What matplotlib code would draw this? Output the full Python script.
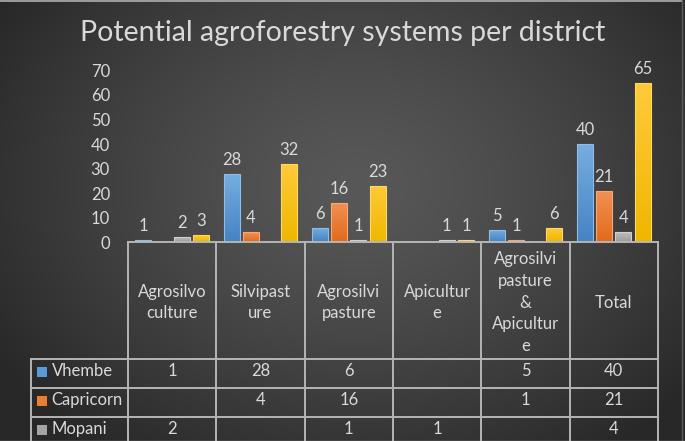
import numpy as np
import matplotlib
matplotlib.use("Agg")
import matplotlib.pyplot as plt
from matplotlib.colors import LinearSegmentedColormap
from matplotlib.patches import Rectangle

# ---------------- data ----------------
categories = ["Agrosilvo\nculture", "Silvipast\nure", "Agrosilvi\npasture",
              "Apicultur\ne", "Agrosilvi\npasture\n&\nApicultur\ne", "Total"]
series_names = ["Vhembe", "Capricorn", "Mopani", "Total"]
vhembe = [1, 28, 6, None, 5, 40]
capricorn = [None, 4, 16, None, 1, 21]
mopani = [2, None, 1, 1, None, 4]
total = [3, 32, 23, 1, 6, 65]
yticks = [0, 10, 20, 30, 40, 50, 60, 70]
title = "Potential agroforestry systems per district"

series = [vhembe, capricorn, mopani, total]
colors_top = ["#76aee0", "#f39155", "#bcbcbc", "#ffca3a"]
colors_bot = ["#4683c3", "#e26a1a", "#9b9b9b", "#efb700"]
colors_edge = ["#8fbde8", "#f6a878", "#cfcfcf", "#ffd766"]
legend_colors = ["#5b9bd5", "#ed7d31", "#a5a5a5", "#ffc000"]
txt = "#d9d9d9"
grid_c = "#b5b5b5"

plt.rcParams['font.family'] = ['Lato', 'DejaVu Sans']

W, H = 685, 441
fig = plt.figure(figsize=(W / 100, H / 100), dpi=100)

# background radial gradient
bg = fig.add_axes([0, 0, 1, 1], zorder=-10)
yy, xx = np.mgrid[0:H, 0:W]
r = np.sqrt(((xx - W * 0.52) / (W * 0.62)) ** 2 + ((yy - H * 0.42) / (H * 0.75)) ** 2)
v = 88 - 48 * np.clip(r, 0, 1) ** 1.3
img = np.dstack([v, v, v]) / 255.0
bg.imshow(img, extent=[0, W, H, 0], aspect='auto')
bg.set_xlim(0, W); bg.set_ylim(H, 0)
bg.plot([0, 682], [0.5, 0.5], color="#b0b0b0", lw=1.2)
bg.plot([682, 682], [0, H], color="#5c5c5c", lw=1.0)
bg.plot([0, W], [440.5, 440.5], color="#8a8a8a", lw=1.0)
bg.axis('off')

# main axes
x_left, x_right = 128, 658
y_base, y_top = 242.3, 70.4
ax = fig.add_axes([x_left / W, (H - y_base) / H, (x_right - x_left) / W, (y_base - y_top) / H])
ax.set_facecolor('none')
ax.set_xlim(-0.5, len(categories) - 0.5)
ax.set_ylim(0, 70)
for s in ax.spines.values():
    s.set_visible(False)
ax.set_xticks([])
ax.set_yticks(yticks)
ax.set_yticklabels([str(t) for t in yticks], fontsize=12, color=txt)
ax.tick_params(axis='y', length=0, pad=13)

step = 0.217
bw = 0.18
for j, vals in enumerate(series):
    xs = [i + (j - 1.5) * step for i, val in enumerate(vals) if val is not None]
    hs = [val for val in vals if val is not None]
    bars = ax.bar(xs, hs, width=bw, facecolor='none', edgecolor=colors_edge[j],
                  linewidth=0.8, zorder=3)
    cmap = LinearSegmentedColormap.from_list("g%d" % j, [colors_bot[j], colors_top[j]])
    grad = np.linspace(1, 0, 64).reshape(-1, 1)
    for rect, hval in zip(bars, hs):
        x0, y0 = rect.get_xy()
        im = ax.imshow(grad, extent=[x0, x0 + rect.get_width(), y0, y0 + rect.get_height()],
                       origin='upper', cmap=cmap, vmin=0, vmax=1, aspect='auto', zorder=2)
        im.set_clip_path(rect)
        ax.annotate(str(hval), (rect.get_x() + rect.get_width() / 2, hval),
                    xytext=(0, 6.5), textcoords='offset points', ha='center',
                    va='baseline', fontsize=12, color=txt, zorder=4)
ax.set_xlim(-0.5, len(categories) - 0.5)
ax.set_ylim(0, 70)

# overlay for the data table (pixel coordinates)
ov = fig.add_axes([0, 0, 1, 1], zorder=5)
ov.set_xlim(0, W); ov.set_ylim(H, 0)
ov.axis('off')
ov.patch.set_alpha(0)

def col_x(i):
    dx, _ = ax.transData.transform((i, 0))
    return dx

n = len(categories)
bounds = [col_x(i - 0.5) for i in range(n + 1)]
centers = [col_x(i) for i in range(n)]
legend_left = 30.7
row_lines = [359.3, 388.3, 417.3, 446.3]
lw = 1.4

ov.plot([bounds[0], bounds[-1]], [y_base, y_base], color=grid_c, lw=lw)
for b in bounds:
    ov.plot([b, b], [y_base, H + 10], color=grid_c, lw=lw)
for yl in row_lines:
    ov.plot([legend_left, bounds[-1]], [yl, yl], color=grid_c, lw=lw)
ov.plot([legend_left, legend_left], [row_lines[0], H + 10], color=grid_c, lw=lw)

for c, cat in zip(centers, categories):
    ov.text(c, 302.5, cat, ha='center', va='center', fontsize=12, color=txt,
            linespacing=1.45)

# table rows (the last row lies below the visible, cropped area)
for k, (name, vals) in enumerate(zip(series_names, series)):
    y0 = row_lines[k]
    yc = y0 + 12
    if yc > H:
        continue
    ov.add_patch(Rectangle((36.7, yc - 4.5), 10.6, 10.6, facecolor=legend_colors[k],
                           edgecolor='none'))
    ov.text(51.5, yc, name, ha='left', va='center', fontsize=12, color=txt)
    for c, val in zip(centers, vals):
        if val is not None:
            ov.text(c, yc, str(val), ha='center', va='center', fontsize=12, color=txt)

fig.text(0.5, 1 - 33 / H, title, ha='center', va='center', fontsize=20.5, color=txt)

fig.savefig("out.png", dpi=100)
